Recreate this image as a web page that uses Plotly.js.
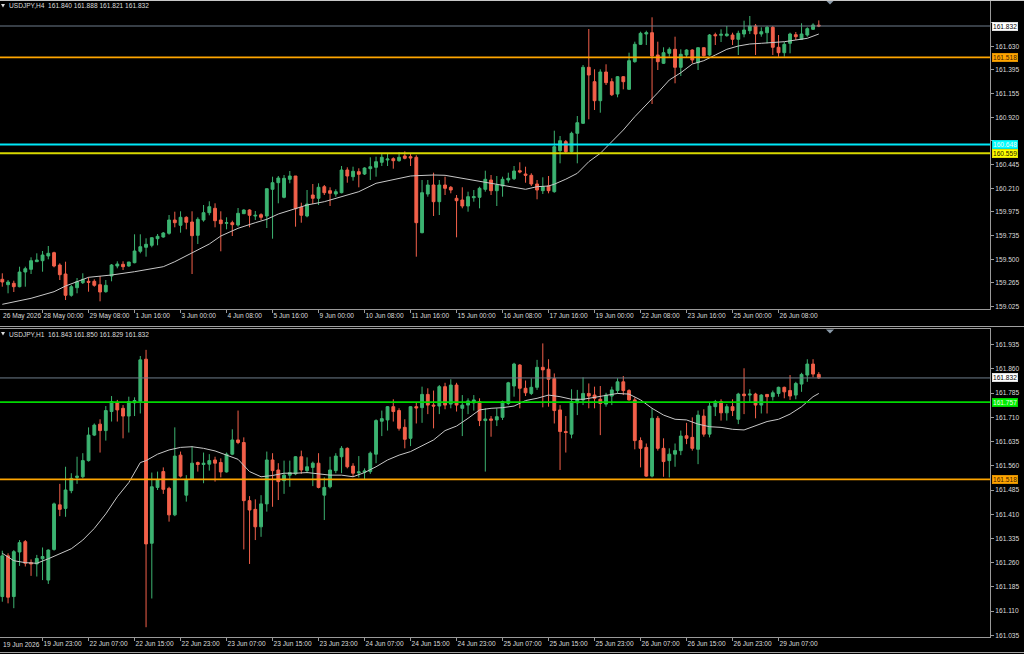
<!DOCTYPE html>
<html><head><meta charset="utf-8">
<script src="https://cdn.plot.ly/plotly-3.0.1.min.js"></script>
<style>html,body{margin:0;padding:0;background:#000;overflow:hidden}#c{width:1024px;height:654px}</style>
</head><body><div id="c"></div>
<script>
// ---------- H4 panel (top) ----------
const topOpen = [159.299,159.245,159.259,159.225,159.372,159.399,159.475,159.485,159.532,159.565,
159.442,159.352,159.139,159.215,159.265,159.279,159.279,159.245,159.175,159.332,
159.432,159.449,159.432,159.465,159.579,159.619,159.639,159.705,159.722,159.759,
159.892,159.839,159.919,159.872,159.739,159.892,159.965,160.009,159.892,159.859,
159.865,159.842,159.955,159.992,159.932,159.945,159.932,160.199,160.265,160.119,
160.299,160.332,160.019,159.932,160.142,160.109,160.225,160.185,160.152,160.165,
160.392,160.325,160.375,160.352,160.405,160.419,160.469,160.492,160.505,160.485,
160.532,160.525,160.519,159.765,160.152,160.242,160.075,160.242,160.219,160.109,
160.092,160.032,160.115,160.119,160.199,160.292,160.185,160.232,160.292,160.305,
160.385,160.352,160.339,160.252,160.185,160.232,160.175,160.585,160.675,160.575,
160.759,160.859,161.419,161.275,161.085,161.372,161.275,161.152,161.325,161.199,
161.475,161.649,161.752,161.765,161.542,161.459,161.559,161.599,161.419,161.542,
161.592,161.465,161.615,161.542,161.745,161.739,161.735,161.742,161.699,161.752,
161.785,161.832,161.752,161.765,161.819,161.619,161.565,161.659,161.745,161.699,
161.742,161.799,161.840];
const topHigh = [159.359,159.292,159.285,159.425,159.425,159.519,159.559,159.582,159.632,159.575,
159.459,159.475,159.242,159.312,159.359,159.319,159.299,159.332,159.292,159.452,
159.479,159.479,159.472,159.749,159.749,159.709,159.719,159.752,159.772,159.942,
159.975,159.979,159.929,159.979,159.919,160.042,160.079,160.059,159.979,159.919,
159.885,160.012,159.999,159.999,159.982,159.959,160.205,160.325,160.332,160.342,
160.382,160.332,160.065,160.192,160.252,160.259,160.242,160.219,160.199,160.432,
160.419,160.425,160.409,160.419,160.519,160.525,160.552,160.552,160.519,160.572,
160.579,160.552,160.539,160.292,160.292,160.365,160.292,160.325,160.232,160.142,
160.219,160.175,160.192,160.225,160.385,160.342,160.332,160.325,160.365,160.432,
160.469,160.425,160.359,160.292,160.319,160.332,160.785,160.732,160.692,160.775,
160.932,161.442,161.802,161.399,161.399,161.449,161.309,161.332,161.332,161.565,
161.675,161.775,161.785,161.919,161.675,161.619,161.619,161.725,161.599,161.599,
161.599,161.619,161.619,161.752,161.765,161.799,161.832,161.765,161.785,161.885,
161.932,161.852,161.819,161.832,161.832,161.742,161.672,161.765,161.772,161.859,
161.819,161.859,161.888];
const topLow = [159.225,159.159,159.172,159.219,159.225,159.352,159.472,159.375,159.499,159.419,
159.292,159.092,159.125,159.159,159.252,159.175,159.225,159.079,159.165,159.279,
159.409,159.392,159.425,159.459,159.559,159.525,159.619,159.639,159.715,159.745,
159.819,159.765,159.799,159.352,159.652,159.875,159.939,159.819,159.579,159.799,
159.732,159.825,159.952,159.819,159.892,159.892,159.812,159.705,160.059,160.109,
160.259,159.825,159.865,159.919,160.052,160.042,160.142,160.032,160.125,160.159,
160.265,160.285,160.219,160.342,160.292,160.325,160.432,160.432,160.405,160.475,
160.499,160.432,159.525,159.759,160.125,159.932,159.942,160.142,160.159,159.719,
160.009,159.975,160.075,160.009,160.175,160.142,160.032,160.125,160.265,160.292,
160.359,160.265,160.232,160.099,160.152,160.159,160.165,160.459,160.559,160.565,
160.459,160.852,160.899,160.992,160.965,161.242,161.132,161.119,161.199,161.192,
161.465,161.642,161.642,161.052,161.392,161.452,161.525,161.259,161.332,161.519,
161.459,161.392,161.525,161.532,161.642,161.672,161.725,161.642,161.542,161.719,
161.752,161.542,161.725,161.659,161.542,161.525,161.525,161.559,161.692,161.692,
161.725,161.792,161.821];
const topClose = [159.272,159.272,159.225,159.372,159.405,159.485,159.492,159.542,159.559,159.432,
159.345,159.139,159.225,159.275,159.299,159.269,159.239,159.172,159.239,159.442,
159.452,159.425,159.472,159.582,159.625,159.649,159.715,159.729,159.762,159.892,
159.865,159.919,159.869,159.735,159.899,159.965,160.025,159.885,159.855,159.865,
159.845,159.959,159.992,159.939,159.939,159.919,160.205,160.265,160.312,160.309,
160.332,160.005,159.939,160.052,160.109,160.219,160.165,160.159,160.175,160.392,
160.332,160.379,160.349,160.412,160.425,160.475,160.519,160.502,160.485,160.519,
160.509,160.512,159.865,160.165,160.242,160.075,160.242,160.209,160.192,160.085,
160.032,160.125,160.125,160.209,160.299,160.185,160.242,160.299,160.309,160.382,
160.372,160.339,160.252,160.192,160.225,160.185,160.625,160.685,160.575,160.759,
160.865,161.419,161.342,161.085,161.372,161.265,161.145,161.325,161.275,161.485,
161.649,161.759,161.765,161.532,161.475,161.565,161.599,161.419,161.549,161.592,
161.492,161.615,161.535,161.742,161.735,161.749,161.752,161.699,161.759,161.792,
161.832,161.752,161.775,161.819,161.619,161.565,161.649,161.752,161.725,161.752,
161.805,161.842,161.832];
const topMaIdx = [0,5,9,11,15,19,23,28,30,33,36,38,41,44,46,48,51,53,56,59,62,65,68,71,72,75,77,79,81,84,
87,90,91,93,95,96,98,100,102,104,106,108,110,112,114,116,118,120,122,124,126,128,130,132,134,136,138,140,142];
const topMaVal = [159.049,159.109,159.175,159.232,159.319,159.342,159.375,159.425,159.475,159.565,
159.652,159.732,159.809,159.865,159.899,159.952,160.009,160.042,160.075,160.125,
160.175,160.259,160.292,160.332,160.335,160.342,160.339,160.319,160.299,160.275,
160.242,160.209,160.199,160.225,160.232,160.250,160.300,160.359,160.475,160.559,
160.675,160.792,160.925,161.042,161.165,161.292,161.365,161.452,161.485,161.542,
161.599,161.632,161.652,161.659,161.665,161.675,161.692,161.709,161.752];
const topTickIdx = [7,15,23,31,39,47,55,63,71,79,87,95,103,111,119,127,135];
const topTickText = ['28 May 00:00','29 May 08:00','1 Jun 16:00','3 Jun 00:00','4 Jun 08:00','5 Jun 16:00','9 Jun 00:00','10 Jun 08:00','11 Jun 16:00','15 Jun 00:00','16 Jun 08:00','17 Jun 16:00','19 Jun 00:00','22 Jun 08:00','23 Jun 16:00','25 Jun 00:00','26 Jun 08:00'];
const topFirstLabel = '26 May 2026';
const topPriceTicks = [159.025,159.265,159.500,159.735,159.975,160.210,160.445,160.685,160.920,161.155,161.395,161.630,161.865];
const topHiddenTicks = [160.685,161.865];
const topHeader = 'USDJPY,H4  161.840 161.888 161.821 161.832';
const topLevels = [161.832,161.518,160.648,160.559];

// ---------- H1 panel (bottom) ----------
const botOpen = [161.155,161.281,161.155,161.293,161.325,161.260,161.256,161.272,161.206,161.301,
161.439,161.428,161.483,161.524,161.526,161.576,161.655,161.689,161.669,161.728,
161.755,161.738,161.714,161.755,161.759,161.890,161.320,161.493,161.542,161.490,
161.408,161.593,161.469,161.518,161.570,161.564,161.565,161.578,161.570,161.541,
161.596,161.640,161.632,161.452,161.425,161.371,161.442,161.578,161.547,161.514,
161.531,161.535,161.588,161.545,161.555,161.568,161.469,161.495,161.545,161.588,
161.614,161.559,161.538,161.540,161.542,161.596,161.698,161.702,161.743,161.731,
161.679,161.645,161.743,161.740,161.781,161.748,161.745,161.805,161.751,161.810,
161.738,161.748,161.755,161.759,161.700,161.705,161.702,161.710,161.753,161.807,
161.872,161.800,161.784,161.803,161.865,161.859,161.830,161.733,161.666,161.658,
161.755,161.764,161.784,161.779,161.766,161.751,161.776,161.793,161.820,161.793,
161.764,161.638,161.617,161.528,161.707,161.614,161.576,161.596,161.607,161.653,
161.648,161.611,161.714,161.658,161.743,161.759,161.724,161.743,161.704,161.782,
161.779,161.782,161.748,161.781,161.774,161.784,161.803,161.793,161.779,161.813,
161.841,161.875,161.843];
const botHigh = [161.297,161.289,161.299,161.330,161.330,161.270,161.284,161.307,161.301,161.446,
161.504,161.557,161.537,161.588,161.599,161.679,161.691,161.704,161.745,161.776,
161.764,161.748,161.774,161.772,161.900,161.919,161.539,161.542,161.555,161.495,
161.679,161.604,161.531,161.621,161.573,161.601,161.596,161.588,161.583,161.601,
161.673,161.731,161.648,161.466,161.456,161.469,161.604,161.599,161.568,161.576,
161.576,161.590,161.607,161.586,161.573,161.599,161.524,161.588,161.599,161.621,
161.617,161.568,161.590,161.552,161.604,161.704,161.731,161.745,161.766,161.738,
161.704,161.745,161.755,161.805,161.800,161.793,161.810,161.817,161.828,161.817,
161.779,161.769,161.779,161.769,161.738,161.714,161.738,161.762,161.820,161.879,
161.875,161.824,161.831,161.888,161.939,161.890,161.846,161.748,161.714,161.797,
161.795,161.834,161.815,161.805,161.807,161.786,161.805,161.831,161.838,161.797,
161.772,161.648,161.629,161.738,161.714,161.645,161.614,161.629,161.669,161.693,
161.710,161.731,161.735,161.755,161.764,161.766,161.751,161.766,161.786,161.862,
161.797,161.786,161.782,161.782,161.793,161.805,161.805,161.841,161.820,161.848,
161.890,161.890,161.850];
const botLow = [161.139,161.134,161.119,161.250,161.248,161.219,161.217,161.206,161.194,161.297,
161.404,161.402,161.475,161.504,161.521,161.573,161.652,161.601,161.638,161.697,
161.697,161.645,161.663,161.714,161.722,161.060,161.149,161.485,161.473,161.387,
161.404,161.524,161.449,161.516,161.542,161.506,161.545,161.511,161.524,161.539,
161.593,161.627,161.301,161.256,161.330,161.340,161.418,161.433,161.454,161.473,
161.495,161.531,161.535,161.537,161.497,161.490,161.392,161.490,161.537,161.537,
161.552,161.526,161.524,161.516,161.535,161.568,161.652,161.669,161.697,161.669,
161.614,161.621,161.691,161.693,161.720,161.676,161.720,161.735,161.738,161.728,
161.652,161.720,161.731,161.683,161.542,161.650,161.683,161.702,161.748,161.774,
161.738,161.776,161.779,161.795,161.741,161.743,161.691,161.547,161.601,161.645,
161.717,161.748,161.738,161.738,161.655,161.743,161.748,161.784,161.779,161.762,
161.611,161.555,161.526,161.524,161.607,161.526,161.524,161.557,161.593,161.627,
161.607,161.565,161.650,161.648,161.714,161.700,161.700,161.714,161.689,161.720,
161.758,161.707,161.722,161.722,161.762,161.774,161.769,161.764,161.766,161.789,
161.820,161.834,161.829];
const botClose = [161.281,161.153,161.294,161.322,161.258,161.256,161.273,161.279,161.299,161.442,
161.425,161.485,161.521,161.528,161.576,161.655,161.686,161.669,161.731,161.759,
161.733,161.714,161.759,161.762,161.888,161.318,161.495,161.516,161.487,161.408,
161.590,161.528,161.516,161.568,161.564,161.568,161.576,161.568,161.541,161.596,
161.640,161.632,161.452,161.423,161.371,161.442,161.578,161.545,161.511,161.531,
161.539,161.588,161.547,161.557,161.568,161.493,161.493,161.547,161.590,161.614,
161.557,161.537,161.541,161.544,161.599,161.700,161.706,161.743,161.728,161.676,
161.642,161.743,161.739,161.781,161.748,161.745,161.805,161.748,161.810,161.748,
161.748,161.761,161.764,161.700,161.705,161.701,161.712,161.759,161.817,161.875,
161.800,161.786,161.803,161.865,161.857,161.828,161.731,161.666,161.663,161.759,
161.766,161.784,161.776,161.769,161.753,161.779,161.795,161.820,161.793,161.764,
161.638,161.614,161.528,161.707,161.614,161.573,161.596,161.607,161.652,161.645,
161.614,161.717,161.658,161.745,161.759,161.724,161.743,161.731,161.782,161.777,
161.782,161.748,161.779,161.774,161.786,161.803,161.789,161.776,161.815,161.843,
161.875,161.844,161.832];
const botMaIdx = [0,2,4,6,8,10,12,14,16,18,20,22,24,25,27,29,31,33,35,37,39,41,43,45,47,49,51,53,55,57,59,61,63,65,67,69,71,73,75,77,79,81,83,85,87,89,91,93,95,97,99,101,103,105,107,109,111,113,115,117,119,121,123,125,127,129,131,133,135,137,139,141,142];
const botMaVal = [161.289,161.266,161.260,161.258,161.272,161.287,161.303,161.330,161.366,161.411,
161.464,161.508,161.570,161.576,161.596,161.609,161.617,161.619,161.614,161.606,
161.593,161.580,161.542,161.526,161.530,161.537,161.537,161.539,161.535,161.531,
161.531,161.526,161.539,161.557,161.578,161.593,161.604,161.621,161.640,161.669,
161.683,161.707,161.733,161.738,161.740,161.745,161.762,161.769,161.779,161.774,
161.766,161.766,161.772,161.776,161.784,161.782,161.764,161.738,161.717,161.704,
161.702,161.689,161.681,161.679,161.673,161.671,161.683,161.697,161.704,161.720,
161.743,161.774,161.784];
const botTickIdx = [7,15,23,31,39,47,55,63,71,79,87,95,103,111,119,127,135];
const botTickText = ['19 Jun 23:00','22 Jun 07:00','22 Jun 15:00','22 Jun 23:00','23 Jun 07:00','23 Jun 15:00','23 Jun 23:00','24 Jun 07:00','24 Jun 15:00','24 Jun 23:00','25 Jun 07:00','25 Jun 15:00','25 Jun 23:00','26 Jun 07:00','26 Jun 15:00','26 Jun 23:00','29 Jun 07:00'];
const botFirstLabel = '19 Jun 2026';
const botPriceTicks = [161.035,161.110,161.185,161.260,161.335,161.410,161.485,161.560,161.635,161.710,161.785,161.860,161.935];
const botHiddenTicks = [];
const botHeader = 'USDJPY,H1  161.843 161.850 161.829 161.832';
const botLevels = [161.832,161.757,161.518];

// ---------- drawing ----------
const W = 1024, H = 654;
const px = v => v / W, py = v => 1 - v / H;
const FONT = 'Liberation Sans, Arial, sans-serif';
const GREEN = '#3cb371', RED = '#f2604a', AX = '#9a9a9a', TXT = '#dcdcdc';
const PLOT_R = 990;

function candle(o, h, l, c, xa, ya) {
  return {type:'candlestick', x:o.map((_, i) => i), open:o, high:h, low:l, close:c,
    xaxis:xa, yaxis:ya, whiskerwidth:0, hoverinfo:'skip',
    increasing:{line:{color:GREEN, width:1}, fillcolor:GREEN},
    decreasing:{line:{color:RED, width:1}, fillcolor:RED}};
}
function ma(x, y, xa, ya) {
  return {type:'scatter', mode:'lines', x:x, y:y, xaxis:xa, yaxis:ya, hoverinfo:'skip',
    line:{color:'#c8c8c8', width:1}};
}
const data = [
  candle(topOpen, topHigh, topLow, topClose, 'x', 'y'),
  ma(topMaIdx, topMaVal, 'x', 'y'),
  candle(botOpen, botHigh, botLow, botClose, 'x2', 'y2'),
  ma(botMaIdx, botMaVal, 'x2', 'y2')
];

const xr = [-0.4, (PLOT_R - 2.3) / 5.75];
function xax(anchor, vals, txt) {
  return {domain:[0, px(PLOT_R)], range:xr, anchor:anchor, showgrid:false, zeroline:false,
    showline:true, linecolor:AX, linewidth:1, mirror:true, ticks:'outside', ticklen:3, tickcolor:AX,
    tickvals:vals, ticktext:txt, ticklabelposition:'outside right', tickangle:0, automargin:false,
    tickfont:{family:FONT, size:6.6, color:TXT}, rangeslider:{visible:false}, fixedrange:true};
}
function yax(anchor, dom, rng, vals, hidden) {
  return {domain:dom, range:rng, anchor:anchor, side:'right', showgrid:false, zeroline:false,
    showline:true, linecolor:AX, linewidth:1, ticks:'outside', ticklen:3, tickcolor:AX,
    tickvals:vals, ticktext:vals.map(v => hidden.includes(v) ? '' : v.toFixed(3)), automargin:false,
    tickfont:{family:FONT, size:6.6, color:TXT}, fixedrange:true};
}

const topColors = ['#6f7d8c', '#ffa500', '#00e8f8', '#d8d800'];
const topW = [1, 1.6, 2, 2];
const topBox = [['#ffffff', '#000000'], ['#ffa500', '#402000'], ['#00ffff', '#f4f4f4'], ['#ffff00', '#202000']];
const botColors = ['#6f7d8c', '#00d800', '#ffa500'];
const botW = [1, 1.6, 1.6];
const botBox = [['#ffffff', '#000000'], ['#00ee00', '#e8ffe8'], ['#ffa500', '#402000']];

const shapes = [], annotations = [];
topLevels.forEach((v, i) => {
  shapes.push({type:'line', xref:'paper', yref:'y', x0:0, x1:px(PLOT_R), y0:v, y1:v, layer:'above',
    line:{color:topColors[i], width:topW[i]}});
  annotations.push({xref:'paper', yref:'y', x:px(PLOT_R + 1.5), y:v, xanchor:'left', yanchor:'middle',
    text:v.toFixed(3), showarrow:false, bgcolor:topBox[i][0], borderpad:0.5, bordercolor:topBox[i][0],
    borderwidth:0.5, font:{family:FONT, size:6.6, color:topBox[i][1]}});
});
botLevels.forEach((v, i) => {
  shapes.push({type:'line', xref:'paper', yref:'y2', x0:0, x1:px(PLOT_R), y0:v, y1:v, layer:'above',
    line:{color:botColors[i], width:botW[i]}});
  annotations.push({xref:'paper', yref:'y2', x:px(PLOT_R + 1.5), y:v, xanchor:'left', yanchor:'middle',
    text:v.toFixed(3), showarrow:false, bgcolor:botBox[i][0], borderpad:0.5, bordercolor:botBox[i][0],
    borderwidth:0.5, font:{family:FONT, size:6.6, color:botBox[i][1]}});
});

// headers & first date labels
[[topHeader, 6], [botHeader, 334]].forEach(([t, y]) => {
  annotations.push({xref:'paper', yref:'paper', x:px(7), y:py(y), xanchor:'left', yanchor:'middle',
    text:t, showarrow:false, font:{family:FONT, size:6.6, color:TXT}});
  shapes.push({type:'path', xref:'paper', yref:'paper', fillcolor:TXT, line:{width:0},
    path:`M ${px(1)} ${py(y-2)} L ${px(5)} ${py(y-2)} L ${px(3)} ${py(y+1.5)} Z`});
});
[[topFirstLabel, 315.5], [botFirstLabel, 644]].forEach(([t, y]) => {
  annotations.push({xref:'paper', yref:'paper', x:px(0.5), y:py(y), xanchor:'left', yanchor:'middle',
    text:t, showarrow:false, font:{family:FONT, size:6.6, color:TXT}});
});
// chart-shift markers
[[0.5], [329.5]].forEach(([y]) => {
  shapes.push({type:'path', xref:'paper', yref:'paper', fillcolor:'#8a9aa8', line:{width:0},
    path:`M ${px(826)} ${py(y)} L ${px(834)} ${py(y)} L ${px(830)} ${py(y+4)} Z`});
});
// window borders
[[0.5, '#c8c8c8'], [326.5, '#a0a0a0'], [652.5, '#a0a0a0']].forEach(([y, c]) => {
  shapes.push({type:'line', xref:'paper', yref:'paper', x0:0, x1:1, y0:py(y), y1:py(y), line:{color:c, width:1}});
});

const layout = {
  width:W, height:H, margin:{l:0, r:0, t:0, b:0}, paper_bgcolor:'#000', plot_bgcolor:'#000',
  showlegend:false, dragmode:false,
  xaxis:xax('y', topTickIdx, topTickText),
  yaxis:yax('x', [py(309), 1], [159.025 - 2.3 * 0.01, 159.025 + 306.7 * 0.01], topPriceTicks, topHiddenTicks),
  xaxis2:xax('y2', botTickIdx, botTickText),
  yaxis2:yax('x2', [py(637), py(329)], [161.035 - 1.7 * 0.003097, 161.035 + 306.3 * 0.003097], botPriceTicks, botHiddenTicks),
  shapes:shapes, annotations:annotations
};
Plotly.newPlot('c', data, layout, {staticPlot:true, displayModeBar:false});
</script></body></html>
